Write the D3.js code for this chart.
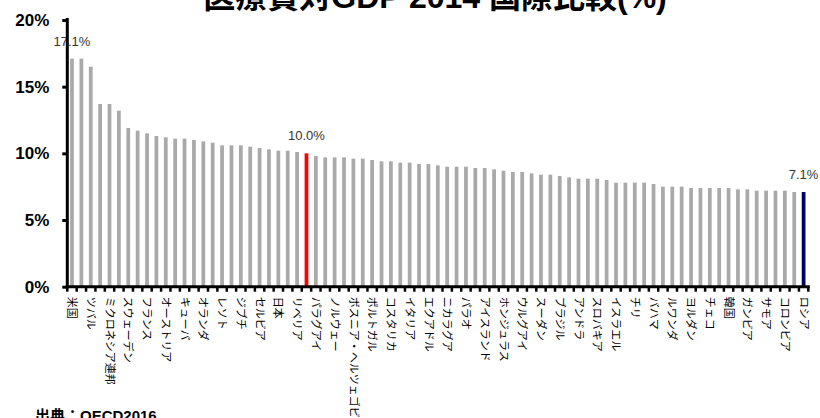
<!DOCTYPE html>
<html>
<head>
<meta charset="utf-8">
<script src="https://cdn.jsdelivr.net/npm/d3@7/dist/d3.min.js"></script>
<style>
  html, body { margin: 0; padding: 0; background: #fff; }
  svg { display: block; }
</style>
</head>
<body>
<svg id="chart" width="820" height="418"></svg>
<script>
// 国別の医療費対GDP比(%), 降順
const countries = [
  "米国", "マーシャル諸島", "ツバル", "シエラレオネ", "ミクロネシア連邦", "キリバス",
  "スウェーデン", "スイス", "フランス", "ドイツ", "オーストリア", "マラウイ",
  "キューバ", "ニュージーランド", "オランダ", "デンマーク", "レソト", "ベルギー",
  "ジブチ", "カナダ", "セルビア", "モルドバ", "日本", "ナウル",
  "リベリア", "平均", "パラグアイ", "マルタ", "ノルウェー", "フィンランド",
  "ボスニア・ヘルツェゴビナ", "モンテネグロ", "ポルトガル", "オーストラリア", "コスタリカ", "ブルンジ",
  "イタリア", "スロベニア", "エクアドル", "英国", "ニカラグア", "スペイン",
  "パラオ", "ジョージア", "アイスランド", "ハイチ", "ホンジュラス", "アルゼンチン",
  "ウルグアイ", "クロアチア", "スーダン", "ブルガリア", "ブラジル", "アフガニスタン",
  "アンドラ", "ギリシャ", "スロバキア", "ナミビア", "イスラエル", "南アフリカ",
  "チリ", "パナマ", "バハマ", "ハンガリー", "ルワンダ", "マケドニア",
  "ヨルダン", "ウガンダ", "チェコ", "レバノン", "韓国", "ベリーズ",
  "ガンビア", "エルサルバドル", "サモア", "ドミニカ", "コロンビア", "グアテマラ",
  "ロシア"
];
const values = [
  17.1, 17.1, 16.5, 13.7, 13.7, 13.2,
  11.9, 11.7, 11.5, 11.3, 11.2, 11.1,
  11.1, 11.0, 10.9, 10.8, 10.6, 10.6,
  10.6, 10.5, 10.4, 10.3, 10.2, 10.2,
  10.1, 10.0, 9.8, 9.7, 9.7, 9.7,
  9.6, 9.6, 9.5, 9.4, 9.4, 9.3,
  9.3, 9.2, 9.2, 9.1, 9.0, 9.0,
  9.0, 8.9, 8.9, 8.8, 8.7, 8.6,
  8.6, 8.5, 8.4, 8.4, 8.3, 8.2,
  8.1, 8.1, 8.1, 8.0, 7.8, 7.8,
  7.8, 7.8, 7.7, 7.5, 7.5, 7.5,
  7.4, 7.4, 7.4, 7.4, 7.4, 7.3,
  7.3, 7.2, 7.2, 7.2, 7.2, 7.1,
  7.1
];
// 強調するバー(赤: 10.0%, 紺: ロシア)
const highlightRed = ["平均"];
const highlightNavy = ["ロシア"];
// 値ラベルを付けるバー
const labelled = ["米国", "平均", "ロシア"];
const yTicks = [0, 5, 10, 15, 20];
const titleText = "医療費対GDP 2014 国際比較(%)";
const sourceText = "出典：OECD2016";

const data = countries.map((c, i) => ({ name: c, value: values[i] }));

const svg = d3.select("#chart");
const plotLeft = 67.3, plotRight = 808.3, plotTop = 20, plotBottom = 286.7;

const x = d3.scaleBand()
  .domain(countries)
  .range([plotLeft, plotRight])
  .paddingInner(0.6)
  .paddingOuter(0.3);

const y = d3.scaleLinear().domain([0, 20]).range([plotBottom, plotTop]);

const latin = "'Liberation Sans', Arial, 'Noto Sans CJK JP', sans-serif";
const cjk = "'Noto Sans CJK JP', sans-serif";

// タイトル (上部は枠外にはみ出す)
svg.append("text")
  .attr("x", 435).attr("y", 8)
  .attr("text-anchor", "middle")
  .attr("font-family", latin)
  .attr("font-weight", "bold")
  .attr("font-size", 32)
  .attr("fill", "#000")
  .text(titleText);

// バー
svg.append("g").selectAll("rect")
  .data(data)
  .join("rect")
  .attr("x", d => x(d.name))
  .attr("width", x.bandwidth())
  .attr("y", d => y(d.value))
  .attr("height", d => y(0) - y(d.value))
  .attr("fill", d => highlightRed.includes(d.name) ? "#ff0000"
                   : highlightNavy.includes(d.name) ? "#000066" : "#a9a9a9");

// 値ラベル
svg.append("g").selectAll("text")
  .data(data.filter(d => labelled.includes(d.name)))
  .join("text")
  .attr("x", d => x(d.name) + x.bandwidth() / 2)
  .attr("y", d => y(d.value) - 13)
  .attr("text-anchor", "middle")
  .attr("font-family", latin)
  .attr("font-size", 13)
  .attr("fill", "#333")
  .text(d => d.value.toFixed(1) + "%");

// Y軸
const yAxis = svg.append("g")
  .attr("transform", `translate(${plotLeft},0)`)
  .call(d3.axisLeft(y).tickValues(yTicks).tickSize(5).tickSizeOuter(0).tickPadding(13)
    .tickFormat(d => d + "%"));
yAxis.select(".domain").attr("stroke", "#000").attr("stroke-width", 3)
  .attr("d", `M0,${plotTop - 2}V${plotBottom + 1.5}`);
yAxis.selectAll(".tick line").attr("stroke", "#000").attr("stroke-width", 3);
yAxis.selectAll(".tick text")
  .attr("font-family", latin)
  .attr("font-weight", "bold")
  .attr("font-size", 17)
  .attr("fill", "#000");

// X軸 (カテゴリ境界に目盛り)
const step = x.step();
const boundaries = d3.range(countries.length + 1).map(i => plotLeft + i * step);
const xg = svg.append("g");
xg.selectAll("line.tk")
  .data(boundaries)
  .join("line")
  .attr("class", "tk")
  .attr("x1", d => d).attr("x2", d => d)
  .attr("y1", plotBottom).attr("y2", plotBottom + 5)
  .attr("stroke", "#000").attr("stroke-width", 2.5);
xg.append("line")
  .attr("x1", plotLeft - 1.5).attr("x2", plotRight + 1.5)
  .attr("y1", plotBottom).attr("y2", plotBottom)
  .attr("stroke", "#000").attr("stroke-width", 3);

// カテゴリラベル (1つおき、縦書き)
xg.selectAll("text")
  .data(countries.filter((c, i) => i % 2 === 0))
  .join("text")
  .attr("transform", d => `translate(${x(d) + x.bandwidth() / 2},${plotBottom + 10}) rotate(90)`)
  .attr("dy", "0.35em")
  .attr("text-anchor", "start")
  .attr("font-family", cjk)
  .attr("font-size", 11)
  .attr("fill", "#000")
  .text(d => d);

// 出典
svg.append("text")
  .attr("x", 35).attr("y", 421)
  .attr("font-family", latin)
  .attr("font-weight", "bold")
  .attr("font-size", 15)
  .attr("fill", "#000")
  .text(sourceText);
</script>
</body>
</html>
